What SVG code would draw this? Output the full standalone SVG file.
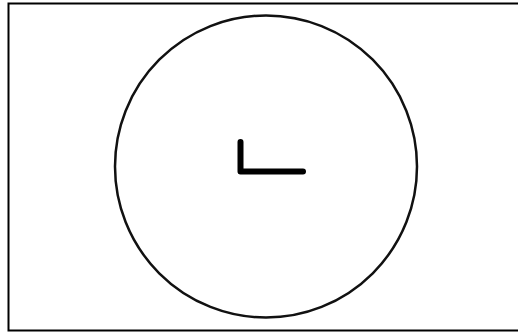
<svg xmlns="http://www.w3.org/2000/svg" width="518" height="332" viewBox="0 0 518 332">
<style>
.frame{fill:none;stroke:#000;stroke-width:2}
.dial{fill:none;stroke:#111;stroke-width:2.5}
.hand{fill:none;stroke:#000;stroke-width:6;stroke-linecap:round;stroke-linejoin:round}
</style>
<rect width="518" height="332" fill="#fff"/>
<rect class="frame" x="8.5" y="3.5" width="512" height="327"/>
<g id="clock">
<circle class="dial" cx="266" cy="166.5" r="151"/>
<path class="hand" d="M240.5,142 V171.5 H303"/>
</g>
</svg>
